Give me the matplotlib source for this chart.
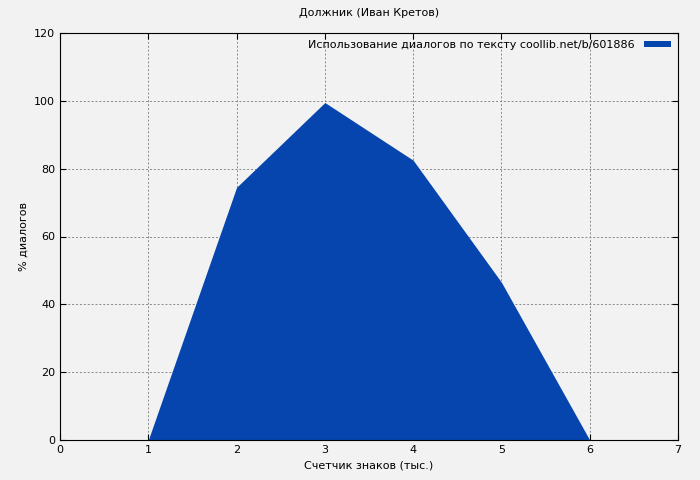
import matplotlib
matplotlib.use("Agg")
import matplotlib.pyplot as plt

# data
x_values = [1, 2, 3, 4, 5, 6]
y_values = [0, 74.5, 99.5, 82.5, 46.5, 0]
legend_label = "Использование диалогов по тексту coollib.net/b/601886"

fig = plt.figure(figsize=(7, 4.8), dpi=100, facecolor="#f2f2f2")
ax = fig.add_axes([60 / 700, 1 - 440 / 480, 618 / 700, 407 / 480])
ax.set_facecolor("#f2f2f2")

ax.fill_between(x_values, y_values, color="#0645ad", linewidth=0, label=legend_label)

ax.set_xlim(0, 7)
ax.set_ylim(0, 120)
ax.set_xticks(range(0, 8))
ax.set_yticks(range(0, 121, 20))
ax.tick_params(labelsize=8, direction="in", length=4, top=True, right=True)
ax.grid(True, color="#888888", linestyle=(0, (2, 2)), linewidth=0.7)
ax.set_axisbelow(True)

ax.set_title("Должник (Иван Кретов)", fontsize=8, pad=12)
ax.set_xlabel("Счетчик знаков (тыс.)", fontsize=8)
ax.set_ylabel("% диалогов", fontsize=8)

leg = ax.legend(loc="upper right", fontsize=8, frameon=False, markerfirst=False,
                handlelength=2.5, handleheight=0.4, borderaxespad=0.2)

fig.savefig("out.png", dpi=100, facecolor=fig.get_facecolor())
